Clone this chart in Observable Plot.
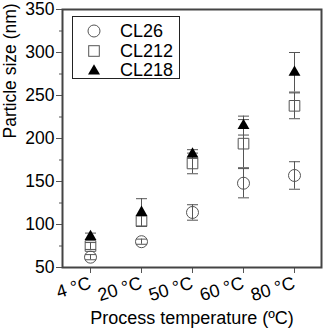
<!DOCTYPE html>
<html>
<head>
<meta charset="utf-8">
<script src="https://cdn.jsdelivr.net/npm/d3@7"></script>
<script src="https://cdn.jsdelivr.net/npm/@observablehq/plot@0.6"></script>
<style>
  html, body { margin: 0; padding: 0; background: #fff; }
  #wrap { position: relative; width: 324px; height: 332px; font-family: "Liberation Sans", Arial, sans-serif; }
  #legend { position: absolute; left: 72px; top: 16px; width: 106px; height: 61px; border: 1.5px solid #222; background: #fff; font-size: 18px; }
  .row { position: absolute; left: 0; height: 20px; display: flex; align-items: center; }
  .row svg { position: absolute; left: 14px; }
  .row span { position: absolute; left: 47px; white-space: nowrap; line-height: 20px; }
</style>
</head>
<body>
<div id="wrap"></div>
<script>
const categories = ["4 °C", "20 °C", "50 °C", "60 °C", "80 °C"];
const seriesNames = ["CL26", "CL212", "CL218"];
const cl26 = [62, 80, 114, 148, 157];
const cl26Err = [3, 3, 9, 17, 16];
const cl212 = [75, 104, 171, 194, 238];
const cl212Err = [4, 6, 12, 28, 15];
const cl218 = [86, 114, 182, 215, 277];
const cl218Err = [4, 16, 5, 11, 23];
const yTicks = [50, 100, 150, 200, 250, 300, 350];
const yMinorTicks = [75, 125, 175, 225, 275, 325];

const grey = "#555";
const rows = [];
[[cl26, cl26Err], [cl212, cl212Err], [cl218, cl218Err]].forEach(([vals, errs], s) => {
  vals.forEach((v, i) => rows.push({series: seriesNames[s], cat: categories[i], v, lo: v - errs[i], hi: v + errs[i]}));
});
const bySeries = name => rows.filter(d => d.series === name);

const cap = { draw(ctx) { ctx.moveTo(-5.5, 0); ctx.lineTo(5.5, 0); } };

const chart = Plot.plot({
  width: 324,
  height: 332,
  marginLeft: 62,
  marginRight: 3,
  marginTop: 9,
  marginBottom: 65,
  style: { fontFamily: "Liberation Sans, Arial, sans-serif", fontSize: "17px", color: "#000", background: "#fff" },
  x: { type: "point", domain: categories, padding: 0.5, label: null },
  y: { domain: [50, 350], label: null },
  marks: [
    Plot.axisY({ ticks: yTicks, tickSize: 6, tickPadding: 2, stroke: grey, fontSize: 17.5, label: null }),
    Plot.axisY({ ticks: yMinorTicks, tickSize: 3, tickFormat: () => "", stroke: grey, label: null }),
    Plot.axisX({ tickSize: 6, tickPadding: 9, tickRotate: -17, stroke: grey, fontSize: 18, label: null }),
    Plot.ruleX(rows, { x: "cat", y1: "lo", y2: "hi", stroke: grey, strokeWidth: 1 }),
    Plot.dot(rows, { x: "cat", y: "hi", symbol: cap, stroke: grey, strokeWidth: 1, r: 5 }),
    Plot.dot(rows, { x: "cat", y: "lo", symbol: cap, stroke: grey, strokeWidth: 1, r: 5 }),
    Plot.dot(bySeries("CL26"), { x: "cat", y: "v", symbol: "circle", r: 6, stroke: grey, fill: "none", strokeWidth: 1 }),
    Plot.dot(bySeries("CL212"), { x: "cat", y: "v", symbol: "square", r: 6, stroke: grey, fill: "none", strokeWidth: 1 }),
    Plot.dot(bySeries("CL218"), { x: "cat", y: "v", symbol: "triangle", r: 4.4, fill: "#000", stroke: "none" }),
    Plot.frame({ stroke: "#444", strokeWidth: 2 }),
    Plot.text(["Particle size (nm)"], { frameAnchor: "left", rotate: -90, dx: -52, fontSize: 17.5 }),
    Plot.text(["Process temperature (ºC)"], { frameAnchor: "bottom", dy: 56, fontSize: 18 })
  ]
});
const wrap = document.getElementById("wrap");
wrap.appendChild(chart);

const legend = document.createElement("div");
legend.id = "legend";
const symbols = [
  '<svg width="14" height="14" viewBox="-7 -7 14 14"><circle r="6" fill="none" stroke="' + grey + '" stroke-width="1"/></svg>',
  '<svg width="14" height="14" viewBox="-7 -7 14 14"><rect x="-5.3" y="-5.3" width="10.6" height="10.6" fill="none" stroke="' + grey + '" stroke-width="1"/></svg>',
  '<svg width="14" height="14" viewBox="-7 -7 14 14"><path d="M0,-5.8L6,4.6L-6,4.6Z" fill="#000"/></svg>'
];
seriesNames.forEach((name, i) => {
  const r = document.createElement("div");
  r.className = "row";
  r.style.top = (4 + i * 19.5) + "px";
  r.innerHTML = symbols[i] + "<span>" + name + "</span>";
  legend.appendChild(r);
});
wrap.appendChild(legend);
</script>
</body>
</html>
